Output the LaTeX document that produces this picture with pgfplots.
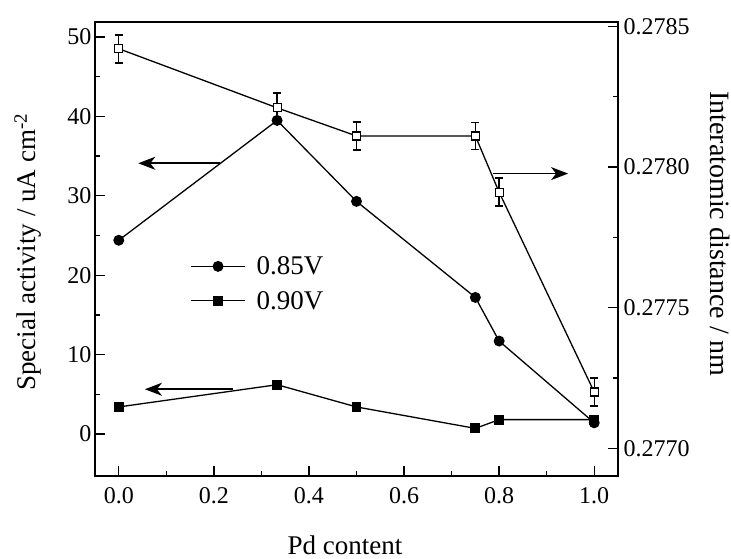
\documentclass[border=0pt]{standalone}
\usepackage{pgfplots}
\pgfplotsset{compat=1.18}
\usepackage{fontspec}
\setmainfont{Liberation Serif}
\usetikzlibrary{arrows.meta}

\begin{document}
\begin{tikzpicture}
\useasboundingbox (-95pt,-83pt) rectangle (636pt,476pt);
\pgfplotsset{
  every axis/.append style={
    width=523pt, height=454pt, scale only axis,
    xmin=-0.05, xmax=1.05,
    tick align=inside,
    major tick length=10pt, minor tick length=5pt,
    every tick/.style={black, line width=1.3pt},
    axis line style={line width=1.7pt},
    /pgf/number format/assume math mode=true,
    tick label style={font=\fontsize{24}{28}\selectfont},
    label style={font=\fontsize{27}{32}\selectfont},
  },
}
% Specific activity at 0.85 V and 0.90 V (left axis)
\begin{axis}[
  ymin=-5.3, ymax=51.9,
  xtick={0,0.2,0.4,0.6,0.8,1.0}, minor x tick num=1,
  ytick={0,10,20,30,40,50}, minor y tick num=1,
  tick pos=left,
  xticklabel style={/pgf/number format/fixed, /pgf/number format/fixed zerofill,
                    /pgf/number format/precision=1, yshift=-8pt},
  xlabel={Pd content},
  xlabel style={at={(axis description cs:0.478,-0.152)}, anchor=center},
  ylabel={Special activity / uA cm\textsuperscript{-2}},
  ylabel style={at={(axis description cs:-0.128,0.493)}, anchor=center},
  legend style={draw=none, fill=none, at={(axis description cs:0.182,0.488)},
                anchor=north west, font=\fontsize{27}{32}\selectfont,
                row sep=11pt, inner sep=0pt},
  legend cell align=left,
  legend image code/.code={\draw[mark repeat=2, mark phase=2]
      plot coordinates {(0pt,0pt) (27pt,0pt) (54pt,0pt)};},
]
\addplot[black, line width=1.3pt, mark=*, mark size=4.8pt] coordinates {
  (0,24.4) (0.333,39.5) (0.5,29.3) (0.75,17.2) (0.8,11.7) (1.0,1.4)
};
\addlegendentry{\hspace{9pt}0.85V}
\addplot[black, line width=1.3pt, mark=square*, mark size=4.3pt] coordinates {
  (0,3.4) (0.333,6.2) (0.5,3.4) (0.75,0.7) (0.8,1.8) (1.0,1.8)
};
\addlegendentry{\hspace{9pt}0.90V}
% arrows pointing to the axis each curve belongs to
\draw[line width=1.7pt, -{Stealth[length=17pt, width=13pt, inset=5pt]}]
  (axis cs:0.213,34.1) -- (axis cs:0.041,34.1);
\draw[line width=1.7pt, -{Stealth[length=17pt, width=13pt, inset=5pt]}]
  (axis cs:0.788,32.8) -- (axis cs:0.945,32.8);
\draw[line width=1.7pt, -{Stealth[length=17pt, width=13pt, inset=5pt]}]
  (axis cs:0.241,5.63) -- (axis cs:0.055,5.63);
\end{axis}
% Interatomic distance (right axis)
\begin{axis}[
  axis x line=none, axis y line*=right,
  ymin=0.2769016, ymax=0.278515,
  ytick={0.2770,0.2775,0.2780,0.2785}, minor y tick num=1,
  scaled y ticks=false,
  yticklabel style={/pgf/number format/fixed, /pgf/number format/fixed zerofill,
                    /pgf/number format/precision=4, xshift=2pt},
  ylabel={Interatomic distance / nm},
  ylabel style={at={(axis description cs:1.195,0.533)}, anchor=center, rotate=180,
                font=\fontsize{28}{33}\selectfont},
]
\addplot[black, line width=1.3pt, mark=square*,
  mark options={fill=white, line width=1.1pt}, mark size=4pt,
  error bars/.cd, y dir=both, y explicit,
  error bar style={line width=1.4pt},
  error mark options={rotate=90, line width=1.9pt, mark size=4pt}]
coordinates {
  (0,0.27842) +- (0,0.00005)
  (0.333,0.27821) +- (0,0.000053)
  (0.5,0.27811) +- (0,0.00005)
  (0.75,0.27811) +- (0,0.000048)
  (0.8,0.27791) +- (0,0.00005)
  (1.0,0.27720) +- (0,0.00005)
};
\end{axis}
\end{tikzpicture}
\end{document}
